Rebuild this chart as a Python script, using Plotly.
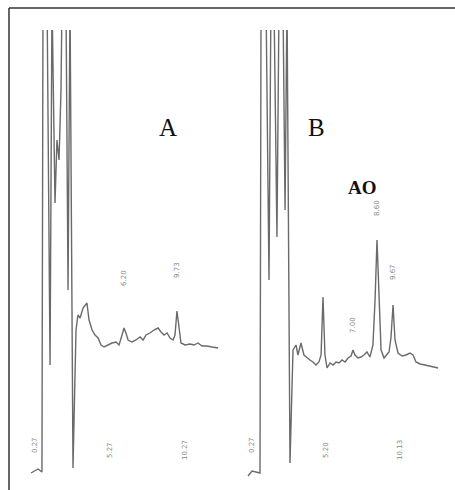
import plotly.graph_objects as go

# Chromatogram A (retention time, min ; detector signal, a.u.; off-scale peaks = 480)
time_a = [0.00, 0.47, 0.73, 0.80, 1.07, 1.27, 1.40, 1.60, 1.73, 1.87, 2.00, 2.07, 2.33, 2.47, 2.60, 2.80,
          3.00, 3.13, 3.27, 3.47, 3.73, 3.87, 4.07, 4.27, 4.47, 4.67, 4.87, 5.13, 5.40, 5.67, 5.87, 6.07,
          6.20, 6.33, 6.47, 6.73, 7.00, 7.27, 7.47, 7.67, 7.93, 8.20, 8.47, 8.67, 8.87, 9.07, 9.27, 9.47,
          9.60, 9.73, 9.87, 10.00, 10.27, 10.60, 10.87, 11.13, 11.40, 11.73, 12.07, 12.47]
signal_a = [5, 9, 6, 480, 480, 113, 480, 275, 338, 318, 388, 480, 480, 188, 480, 10,
            148, 163, 160, 170, 175, 158, 148, 143, 140, 133, 131, 133, 135, 136, 133, 143,
            150, 145, 138, 136, 138, 141, 138, 143, 145, 148, 150, 146, 143, 145, 140, 138,
            143, 167, 153, 135, 133, 134, 133, 135, 132, 132, 131, 130]

# Chromatogram B
time_b = [0.00, 0.27, 0.80, 0.87, 1.20, 1.40, 1.53, 1.73, 1.93, 2.07, 2.33, 2.47, 2.60, 2.80,
          3.00, 3.20, 3.33, 3.53, 3.73, 3.93, 4.13, 4.33, 4.53, 4.73, 4.87, 5.00, 5.13, 5.27,
          5.47, 5.67, 5.87, 6.07, 6.27, 6.47, 6.67, 6.87, 7.00, 7.13, 7.33, 7.53, 7.73, 7.93,
          8.13, 8.33, 8.47, 8.60, 8.73, 8.87, 9.07, 9.27, 9.40, 9.53, 9.67, 9.80, 10.00, 10.27,
          10.53, 10.80, 11.00, 11.20, 11.47, 11.80, 12.13, 12.67]
signal_b = [2, 7, 5, 480, 480, 198, 480, 480, 241, 480, 480, 268, 480, 15,
            128, 133, 123, 135, 123, 120, 118, 116, 113, 116, 123, 181, 123, 110,
            115, 113, 116, 115, 118, 116, 120, 122, 128, 123, 120, 121, 123, 126,
            121, 133, 178, 238, 178, 128, 120, 123, 126, 140, 173, 138, 125, 122,
            123, 125, 123, 116, 114, 113, 112, 110]

# Peak retention-time labels
peaks_a_t = [6.20, 9.73]
peaks_a_y = [190, 198]
peaks_b_t = [7.00, 8.60, 9.67]
peaks_b_y = [143, 260, 196]

# Time marks along the bottom
marks_a_t = [0.27, 5.27, 10.27]
marks_b_t = [0.27, 5.20, 10.13]
marks_y = [33, 28, 28]

W, H = 455, 490
fig = go.Figure()
line_col = "#6a6a6a"
fig.add_trace(go.Scatter(x=time_a, y=signal_a, mode="lines", xaxis="x", yaxis="y",
                         line=dict(color=line_col, width=1.4), showlegend=False, hoverinfo="skip"))
fig.add_trace(go.Scatter(x=time_b, y=signal_b, mode="lines", xaxis="x2", yaxis="y2",
                         line=dict(color=line_col, width=1.4), showlegend=False, hoverinfo="skip"))

ann = []
lab_font = dict(family="DejaVu Sans", size=7, color="#8a8a8a")
for t, y in zip(peaks_a_t, peaks_a_y):
    ann.append(dict(x=t, y=y, xref="x", yref="y", text=f"{t:.2f}", textangle=-90,
                    showarrow=False, font=lab_font, yanchor="bottom"))
for t, y in zip(peaks_b_t, peaks_b_y):
    ann.append(dict(x=t, y=y, xref="x2", yref="y2", text=f"{t:.2f}", textangle=-90,
                    showarrow=False, font=lab_font, yanchor="bottom"))
for t, y in zip(marks_a_t, marks_y):
    ann.append(dict(x=t, y=y, xref="x", yref="y", text=f"{t:.2f}", textangle=-90,
                    showarrow=False, font=lab_font))
for t, y in zip(marks_b_t, marks_y):
    ann.append(dict(x=t, y=y, xref="x2", yref="y2", text=f"{t:.2f}", textangle=-90,
                    showarrow=False, font=lab_font))

ann.append(dict(x=168 / W, y=1 - 112 / H, xref="paper", yref="paper", text="A", showarrow=False,
                font=dict(family="Liberation Serif", size=25, color="#111")))
ann.append(dict(x=327 / W, y=1 - 112 / H, xref="paper", yref="paper", text="B", showarrow=False,
                font=dict(family="Liberation Serif", size=25, color="#111")))
ann.append(dict(x=379 / W, y=1 - 188 / H, xref="paper", yref="paper", text="<b>AO</b>", showarrow=False,
                font=dict(family="Liberation Serif", size=19, color="#111")))

shapes = [
    dict(type="line", xref="paper", yref="paper", x0=9 / W, x1=1, y0=1 - 8 / H, y1=1 - 8 / H,
         line=dict(color="#333", width=1.5)),
    dict(type="line", xref="paper", yref="paper", x0=9 / W, x1=9 / W, y0=0, y1=1 - 8 / H,
         line=dict(color="#333", width=1.5)),
]

ax_common = dict(range=[-0.2, 13], showgrid=False, zeroline=False, showticklabels=False,
                 showline=False, ticks="", fixedrange=True)
ay_common = dict(range=[0, 448], showgrid=False, zeroline=False, showticklabels=False,
                 showline=False, ticks="", fixedrange=True, domain=[1 - 478 / H, 1 - 30 / H])

fig.update_layout(
    width=W, height=H, margin=dict(l=0, r=0, t=0, b=0),
    paper_bgcolor="white", plot_bgcolor="rgba(0,0,0,0)",
    xaxis=dict(**ax_common, domain=[28 / W, 226 / W]),
    yaxis=dict(**ay_common),
    xaxis2=dict(**ax_common, domain=[245 / W, 443 / W], anchor="y2"),
    yaxis2=dict(**ay_common, anchor="x2"),
    annotations=ann, shapes=shapes,
)
fig.write_html("out.html", config={"displayModeBar": False},
               post_script="document.body.style.margin='0';document.body.style.overflow='hidden';")
